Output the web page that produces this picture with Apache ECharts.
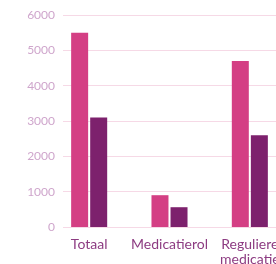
<!DOCTYPE html>
<html>
<head>
<meta charset="utf-8">
<script src="https://cdn.jsdelivr.net/npm/echarts@6/dist/echarts.min.js"></script>
<style>
  html, body { margin: 0; padding: 0; background: #fff; }
  #chart { width: 276px; height: 264px; }
</style>
</head>
<body>
<div id="chart"></div>
<script>
const categories = ['Totaal', 'Medicatierol', 'Reguliere\nmedicatie'];
const seriesA = [5500, 900, 4700];
const seriesB = [3100, 560, 2600];
const yTicks = { min: 0, max: 6000, interval: 1000 };

const chart = echarts.init(document.getElementById('chart'));

const option = {
  animation: false,
  grid: [
    // raster + y-labels
    { left: 63, right: 0, top: 15, height: 212, outerBoundsMode: 'none', containLabel: false },
    // staven
    { left: 49, width: 241, top: 15, height: 212, outerBoundsMode: 'none', containLabel: false }
  ],
  xAxis: [
    { gridIndex: 0, type: 'category', data: categories, show: false },
    {
      gridIndex: 1,
      type: 'category',
      data: categories,
      axisLine: { show: false },
      axisTick: { show: false },
      axisLabel: {
        interval: 0,
        hideOverlap: false,
        color: '#8d3c82',
        fontFamily: 'Lato',
        fontSize: 14,
        lineHeight: 15,
        margin: 10
      }
    }
  ],
  yAxis: [
    {
      gridIndex: 0,
      type: 'value',
      min: yTicks.min,
      max: yTicks.max,
      interval: yTicks.interval,
      axisLine: { show: false },
      axisTick: { show: false },
      axisLabel: {
        color: '#cfa6cc',
        fontFamily: 'Lato',
        fontSize: 12,
        margin: 8,
        formatter: v => String(v)
      },
      splitLine: { lineStyle: { color: '#f6d9e6', width: 1 } }
    },
    {
      gridIndex: 1,
      type: 'value',
      min: yTicks.min,
      max: yTicks.max,
      interval: yTicks.interval,
      show: false,
      splitLine: { show: false }
    }
  ],
  series: [
    {
      type: 'bar',
      xAxisIndex: 1,
      yAxisIndex: 1,
      data: seriesA,
      barWidth: 17,
      barGap: '12%',
      itemStyle: { color: '#d43f84' }
    },
    {
      type: 'bar',
      xAxisIndex: 1,
      yAxisIndex: 1,
      data: seriesB,
      barWidth: 17,
      barGap: '12%',
      itemStyle: { color: '#7d216d' }
    }
  ]
};

chart.setOption(option);
</script>
</body>
</html>
